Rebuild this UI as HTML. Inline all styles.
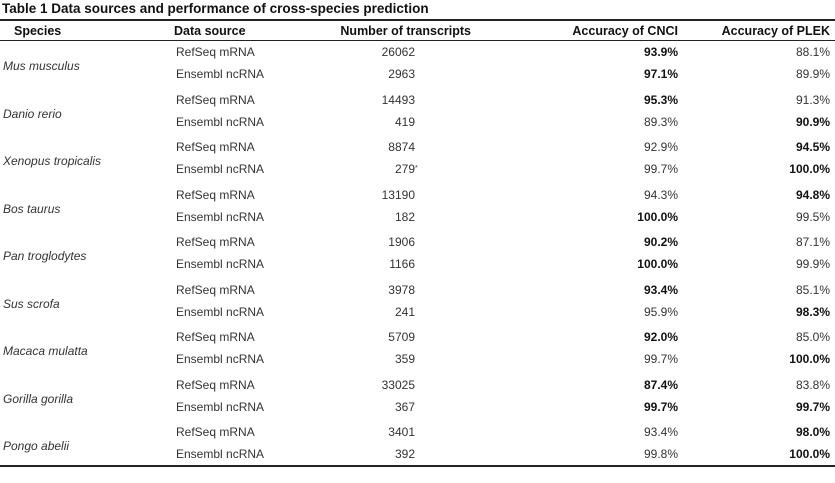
<!DOCTYPE html>
<html><head><meta charset="utf-8"><style>
body{margin:0;width:835px;height:483px;background:#fff;font-family:"Liberation Sans",sans-serif;overflow:hidden;position:relative;color:#333}
.a{position:absolute;white-space:nowrap;font-size:12px;line-height:14px}
.r{text-align:right}
.b{font-weight:bold;color:#111}
.h{font-weight:bold;color:#111;font-size:12.5px}
.ln{position:absolute;left:0;width:835px;background:#222}
</style></head><body>
<div class="a" style="left:2px;top:2px;font-weight:bold;font-size:13.5px;color:#111">Table 1 Data sources and performance of cross-species prediction</div>
<div class="ln" style="top:19px;height:2px"></div>
<div class="a h" style="left:14px;top:24px">Species</div>
<div class="a h" style="left:174px;top:24px">Data source</div>
<div class="a h r" style="right:364px;top:24px">Number of transcripts</div>
<div class="a h r" style="right:157px;top:24px">Accuracy of CNCI</div>
<div class="a h r" style="right:5px;top:24px">Accuracy of PLEK</div>
<div class="ln" style="top:40px;height:1px"></div>
<div class="ln" style="top:465px;height:2px"></div>
<div id="rows"></div>
<script>
const species=["Mus musculus","Danio rerio","Xenopus tropicalis","Bos taurus","Pan troglodytes","Sus scrofa","Macaca mulatta","Gorilla gorilla","Pongo abelii"];
const counts=[[26062,2963],[14493,419],[8874,"279*"],[13190,182],[1906,1166],[3978,241],[5709,359],[33025,367],[3401,392]];
const cnci=[["93.9%","97.1%"],["95.3%","89.3%"],["92.9%","99.7%"],["94.3%","100.0%"],["90.2%","100.0%"],["93.4%","95.9%"],["92.0%","99.7%"],["87.4%","99.7%"],["93.4%","99.8%"]];
const plek=[["88.1%","89.9%"],["91.3%","90.9%"],["94.5%","100.0%"],["94.8%","99.5%"],["87.1%","99.9%"],["85.1%","98.3%"],["85.0%","100.0%"],["83.8%","99.7%"],["98.0%","100.0%"]];
const sources=["RefSeq mRNA","Ensembl ncRNA"];
const R=document.getElementById('rows');
function add(txt,cls,style,name){const d=document.createElement('div');d.className='a '+cls;d.style.cssText=style;d.innerHTML=txt;


R.appendChild(d);}
species.forEach((s,i)=>{
 const g=45+47.5*i;
 add(s,'','left:3px;top:'+(g+14)+'px;font-style:italic','species-'+i);
 for(let k=0;k<2;k++){
  const t=g+k*22;
  add(sources[k],'','left:176px;top:'+t+'px','source-'+i+'-'+k);
  let c=String(counts[i][k]);if(c.endsWith('*'))c=c.slice(0,-1)+'<sup style="font-size:7px;position:absolute">*</sup>';
  add(c,'r','right:420px;top:'+t+'px','count-'+i+'-'+k);
  const cv=parseFloat(cnci[i][k]),pv=parseFloat(plek[i][k]);
  add(cnci[i][k],'r'+(cv>=pv?' b':''),'right:157px;top:'+t+'px','cnci-'+i+'-'+k);
  add(plek[i][k],'r'+(pv>=cv?' b':''),'right:5px;top:'+t+'px','plek-'+i+'-'+k);
 }
});
</script>
</body></html>
